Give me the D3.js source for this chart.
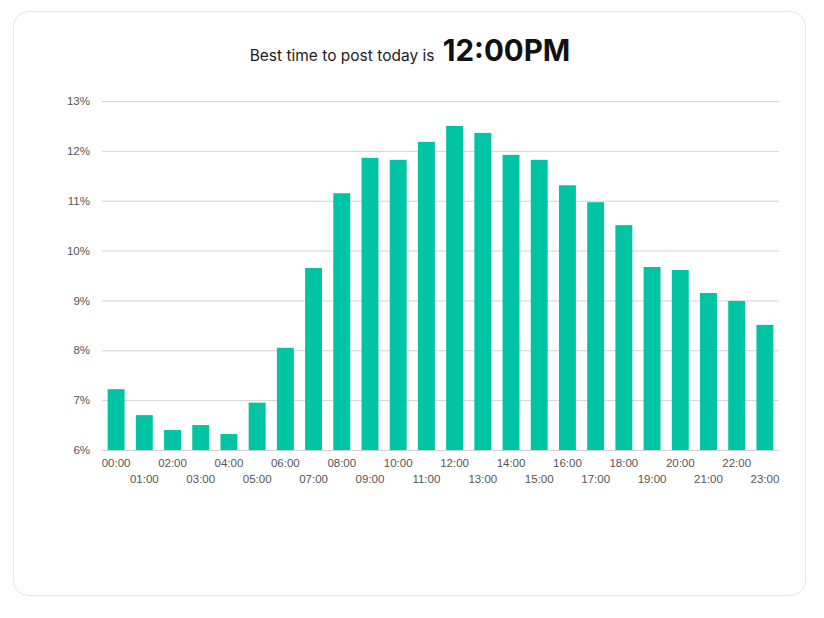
<!DOCTYPE html>
<html>
<head>
<meta charset="utf-8">
<script src="https://cdn.jsdelivr.net/npm/d3@7"></script>
<style>
  html, body { margin: 0; padding: 0; background: #fff; }
  body { width: 824px; height: 618px; font-family: Inter, "Noto Sans", sans-serif; }
</style>
</head>
<body>
<svg id="chart" width="824" height="618"></svg>
<script>
const hours = ['00:00','01:00','02:00','03:00','04:00','05:00','06:00','07:00','08:00','09:00','10:00','11:00',
               '12:00','13:00','14:00','15:00','16:00','17:00','18:00','19:00','20:00','21:00','22:00','23:00'];
const shares = [7.22, 6.70, 6.40, 6.50, 6.32, 6.95, 8.05, 9.65, 11.15, 11.86, 11.82, 12.18,
                12.50, 12.36, 11.92, 11.82, 11.31, 10.97, 10.51, 9.67, 9.61, 9.15, 8.99, 8.51];
const yTicks = [6, 7, 8, 9, 10, 11, 12, 13];
const titleText = 'Best time to post today is';
const bestTime = '12:00PM';

const axisFont = '"Liberation Sans", Arial, sans-serif';
const svg = d3.select('#chart');

// card
svg.append('rect')
  .attr('x', 13.5).attr('y', 11.5)
  .attr('width', 792).attr('height', 584)
  .attr('rx', 15).attr('ry', 15)
  .attr('fill', '#fff')
  .attr('stroke', '#e4e4e4');

// title
const title = svg.append('text')
  .attr('x', 410).attr('y', 61)
  .attr('text-anchor', 'middle')
  .attr('fill', '#222');
title.append('tspan')
  .style('font-size', '15.5px')
  .text(titleText + ' ');
title.append('tspan')
  .attr('dx', 4)
  .style('font-size', '29.5px')
  .style('font-weight', 700)
  .attr('fill', '#111')
  .text(bestTime);

const margin = { top: 101, left: 102, right: 45, bottom: 168 };
const width = 824 - margin.left - margin.right;
const height = 618 - margin.top - margin.bottom;

const g = svg.append('g')
  .attr('transform', `translate(${margin.left},${margin.top})`);

const x = d3.scaleBand()
  .domain(hours)
  .range([0, width])
  .paddingInner(0.4)
  .paddingOuter(0.2);

const y = d3.scaleLinear()
  .domain([6, 13])
  .range([height, 0]);

// gridlines + y labels
const yAxis = g.append('g')
  .call(d3.axisLeft(y).tickValues(yTicks).tickSize(-width).tickFormat(d => d + '%'));
yAxis.select('.domain').remove();
yAxis.selectAll('.tick line').attr('stroke', '#d2d2d2');
yAxis.selectAll('.tick text')
  .attr('x', -12)
  .attr('fill', '#555')
  .style('font-family', axisFont)
  .style('font-size', '11.5px');

// bars
g.selectAll('.bar')
  .data(shares)
  .enter()
  .append('rect')
  .attr('class', 'bar')
  .attr('x', (d, i) => x(hours[i]))
  .attr('y', d => y(d))
  .attr('width', x.bandwidth())
  .attr('height', d => y(6) - y(d))
  .attr('fill', '#00c4a3');

// x labels, staggered in two rows
const xAxis = g.append('g')
  .attr('transform', `translate(0,${height})`)
  .call(d3.axisBottom(x).tickSize(0));
xAxis.select('.domain').remove();
xAxis.selectAll('.tick text')
  .attr('y', (d, i) => i % 2 === 0 ? 9 : 25)
  .attr('fill', '#555')
  .style('font-family', axisFont)
  .style('font-size', '11.5px');
</script>
</body>
</html>
